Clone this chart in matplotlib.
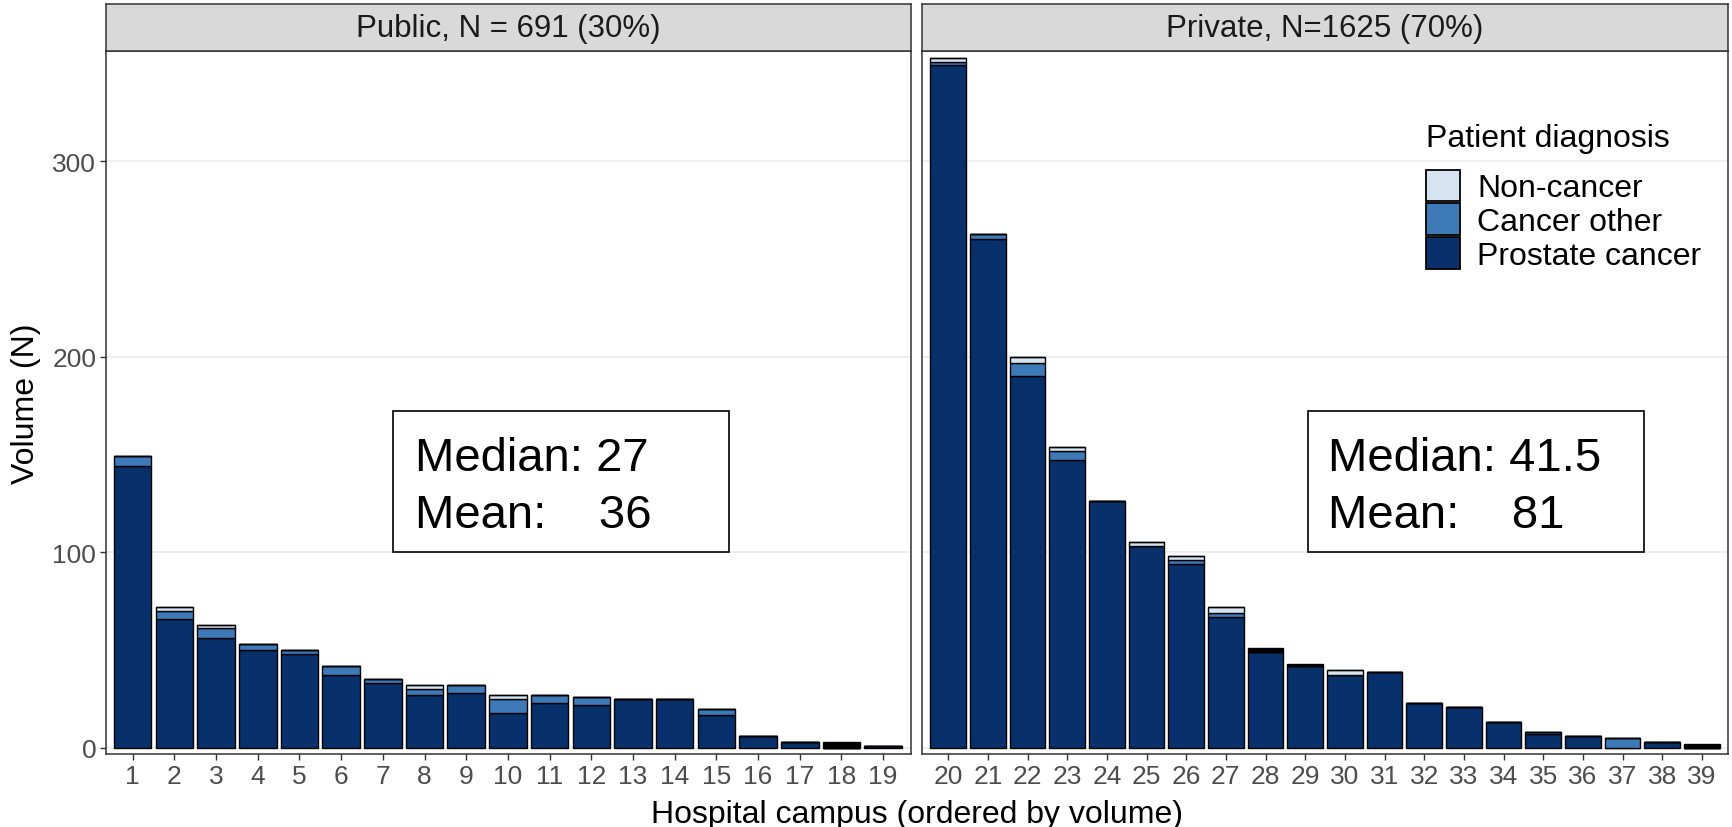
import numpy as np
import matplotlib
matplotlib.use("Agg")
import matplotlib.pyplot as plt
from matplotlib.patches import Patch, Rectangle

plt.rcParams['font.family'] = ['Liberation Sans', 'DejaVu Sans']

# Datos
public_campus = list(range(1, 20))
public_prostate = [144, 66, 56, 50, 48, 37, 33, 27, 28, 18, 23, 22, 25, 25, 17, 6, 3, 0, 1]
public_other = [5, 4, 5, 3, 2, 5, 2, 3, 4, 7, 4, 4, 0, 0, 3, 0, 0, 0, 0]
public_noncancer = [0, 2, 2, 0, 0, 0, 0, 2, 0, 2, 0, 0, 0, 0, 0, 0, 0, 0, 0]
public_na = [0, 0, 0, 0, 0, 0, 0, 0, 0, 0, 0, 0, 0, 0, 0, 0, 0, 3, 0]

private_campus = list(range(20, 40))
private_prostate = [349, 260, 190, 147, 126, 103, 94, 67, 49, 42, 37, 39, 23, 21, 13, 7, 6, 0, 3, 0]
private_other = [2, 3, 7, 5, 0, 0, 2, 2, 0, 0, 0, 0, 0, 0, 0, 1, 0, 5, 0, 0]
private_noncancer = [2, 0, 3, 2, 0, 2, 2, 3, 0, 0, 3, 0, 0, 0, 0, 0, 0, 0, 0, 0]
private_na = [0, 0, 0, 0, 0, 0, 0, 0, 2, 1, 0, 0, 0, 0, 0, 0, 0, 0, 0, 2]

panel_titles = ["Public, N = 691 (30%)", "Private, N=1625 (70%)"]
stats_text = [("Median: 27", "Mean:    36"), ("Median: 41.5", "Mean:    81")]

legend_labels = ["Non-cancer", "Cancer other", "Prostate cancer"]
col_non = "#D6E3F0"
col_other = "#3D7AB7"
col_prostate = "#08306B"
col_na = "#000000"

W, H = 1733, 828
fig = plt.figure(figsize=(W / 100, H / 100), dpi=100)


def fx(px):
    return px / W


def fy(px):
    return 1 - px / H


# Posiciones de los paneles (pixeles)
panels = [(106, 910.7, (0.36, 19.66)), (922, 1727.7, (19.34, 39.65))]
top, bottom, strip_top = 52, 755, 5

datasets = [
    (public_campus, public_prostate, public_other, public_noncancer, public_na),
    (private_campus, private_prostate, private_other, private_noncancer, private_na),
]
# Cajas de estadisticas: (x0, x1, xtexto) en unidades de datos
boxes = [(7.25, 15.31, 7.78), (29.08, 37.55, 29.58)]

axes = []
for i, (x0, x1, xl) in enumerate(panels):
    ax = fig.add_axes([fx(x0), fy(bottom), fx(x1 - x0), (bottom - top) / H])
    axes.append(ax)
    campus, pros, oth, non, na = datasets[i]
    pros = np.array(pros)
    oth = np.array(oth)
    non = np.array(non)
    na = np.array(na)
    kw = dict(width=0.9, edgecolor="black", linewidth=1.0, zorder=3)
    ax.bar(campus, pros, color=col_prostate, **kw)
    ax.bar(campus, oth, bottom=pros, color=col_other, **kw)
    ax.bar(campus, non, bottom=pros + oth, color=col_non, **kw)
    ax.bar(campus, na, bottom=pros + oth + non, color=col_na, **kw)

    ax.set_xlim(*xl)
    ax.set_ylim(-3.2, 356.4)
    ax.set_xticks(campus)
    ax.set_xticklabels([str(c) for c in campus])
    ax.set_yticks([0, 100, 200, 300])
    ax.grid(axis="y", color="#EBEBEB", linewidth=1.1, zorder=0)
    ax.tick_params(axis="both", labelsize=19, colors="#333333", labelcolor="#4D4D4D",
                   length=4, width=1.0, pad=3)
    for s in ax.spines.values():
        s.set_color("#333333")
        s.set_linewidth(1.1)
    if i == 1:
        ax.tick_params(axis="y", left=False, labelleft=False)

    bx0, bx1, xt = boxes[i]
    ax.add_patch(Rectangle((bx0, 100.3), bx1 - bx0, 71.8, facecolor="white",
                           edgecolor="black", linewidth=1.2, zorder=5))
    ax.text(xt, 142.3, stats_text[i][0], fontsize=34, va="baseline", ha="left", zorder=6)
    ax.text(xt, 113.1, stats_text[i][1], fontsize=34, va="baseline", ha="left", zorder=6)

    # Tira con el titulo del panel
    sax = fig.add_axes([fx(x0), fy(top), fx(x1 - x0), (top - strip_top) / H])
    sax.set_facecolor("#D9D9D9")
    sax.set_xticks([])
    sax.set_yticks([])
    for s in sax.spines.values():
        s.set_color("#333333")
        s.set_linewidth(1.1)
    sax.text(0.5, 0.48, panel_titles[i], fontsize=22.5, color="#1A1A1A",
             ha="center", va="center", transform=sax.transAxes)

axes[0].set_ylabel("Volume (N)", fontsize=23, labelpad=8)
fig.text(fx(917), fy(815), "Hospital campus (ordered by volume)", fontsize=23,
         ha="center", va="center")

handles = [Patch(facecolor=c, edgecolor="black", linewidth=1.3)
           for c in [col_non, col_other, col_prostate]]
leg = axes[1].legend(handles, legend_labels, title="Patient diagnosis",
                     loc="upper left", bbox_to_anchor=(fx(1426), fy(124)),
                     bbox_transform=fig.transFigure, frameon=False,
                     fontsize=23, title_fontsize=23, handlelength=1.05,
                     handleheight=1.15, handletextpad=0.55, labelspacing=0.0,
                     borderpad=0, borderaxespad=0, alignment="left")
leg._legend_box.sep = 12

fig.savefig("out.png", dpi=100)
